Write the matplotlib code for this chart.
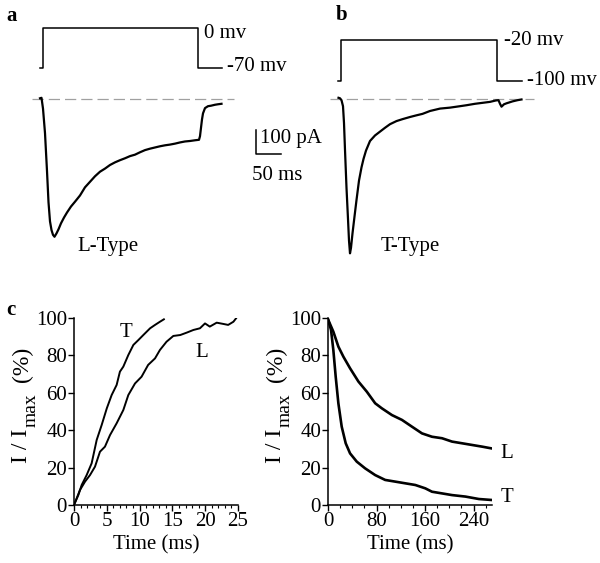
import numpy as np
import matplotlib.pyplot as plt

plt.rcParams['font.family'] = ['Liberation Serif', 'DejaVu Serif']

# panel a: L-type current (time in ms, current in pA)
a_time = [0, 3, 6, 10, 14, 17, 20, 23, 26, 29, 33, 37, 42, 48, 54, 62, 70, 80,
          90, 100, 110, 120, 130, 140, 150, 160, 170, 180, 190, 200, 210, 220,
          230, 240, 250, 260, 270, 280, 290, 300, 310, 318, 320, 322, 324, 326,
          330, 336, 342, 350, 356, 363]
a_current = [3, 5, -40, -142, -300, -430, -510, -546, -566, -574, -560, -543,
             -518, -494, -473, -448, -428, -402, -368, -345, -322, -303, -290,
             -275, -264, -255, -247, -238, -232, -222, -213, -207, -202, -197,
             -193, -190, -186, -181, -177, -175, -172, -170, -155, -120, -85,
             -60, -38, -30, -28, -24, -22, -20]
a_step_time = [0, 5.4, 316.6, 363.4]
a_step_mv = [-70, 0, -70, -70]

# panel b: T-type current
b_time = [-3, 0, 3, 6, 8, 10, 13, 16, 18, 20, 22, 25, 29, 33, 38, 43, 47, 52,
          60, 70, 80, 90, 100, 113, 125, 140, 153, 165, 180, 200, 220, 240,
          253, 270, 285, 300, 312, 317, 320, 323, 328, 333, 345, 355, 363]
b_current = [5, 3, -5, -30, -100, -212, -370, -500, -590, -643, -620, -560,
             -490, -421, -340, -285, -250, -215, -175, -152, -136, -120, -105,
             -92, -84, -75, -68, -62, -50, -40, -36, -30, -26, -20, -16, -12,
             -6, -5, -20, -32, -22, -18, -10, -5, -2]
b_step_time = [-3.4, 2, 313.4, 363.4]
b_step_mv = [-100, -20, -100, -100]

# panel c left: activation (time ms, I/Imax %)
t_rise_T = [0, 0.66, 1.17, 1.93, 2.69, 3.46, 4.22, 5.0, 5.74, 6.5, 7.0, 7.52,
            8.28, 9.05, 9.81, 10.57, 11.6, 12.35, 13.1, 13.7]
v_rise_T = [0, 5.3, 10.7, 16, 22.3, 34.8, 42.8, 51.7, 58.8, 64.2, 71.3, 74,
            80.2, 85.6, 88.2, 90.9, 94.5, 96.3, 98, 99.3]
t_rise_L = [0, 0.91, 1.68, 2.44, 3.2, 3.96, 4.72, 5.49, 6.5, 7.52, 8.28, 9.3,
            10.3, 11.3, 12.35, 13.1, 14.1, 15.14, 16.2, 17.2, 18.2, 19.2,
            19.97, 20.7, 21.75, 22.8, 23.5, 24.3, 24.7]
v_rise_L = [0, 8, 12.5, 16, 20.5, 28.5, 31.2, 37.4, 43.7, 50.8, 58.8, 65,
            68.6, 74.9, 78.4, 82.9, 87.3, 90.4, 90.9, 92.2, 93.6, 94.5, 97.1,
            95.4, 97.5, 96.8, 96.3, 98, 99.8]

# panel c right: inactivation
t_decay_L = [0, 8.8, 17.1, 25.4, 36.4, 50.2, 64, 77.8, 88.8, 105.4, 122,
             138.4, 155, 171.5, 188.1, 204.6, 221.2, 237.7, 254.3, 269.2]
v_decay_L = [99.3, 92.7, 84.7, 79.3, 73.1, 66, 60.6, 54.4, 51.7, 48.1, 45.5,
             41.9, 38.3, 36.5, 35.7, 33.9, 33, 32.1, 31.2, 30.3]
t_decay_T = [0, 5, 8.8, 12.7, 17.1, 22.6, 29.2, 36.4, 47.4, 61.2, 77.8, 94.3,
             110.9, 127.4, 144, 160.5, 171.5, 188.1, 204.6, 226.7, 248.8,
             269.2]
v_decay_T = [99.3, 93.6, 82.9, 68.6, 54.4, 41.9, 33, 27.6, 23.2, 19.6, 16,
             13.4, 12.5, 11.6, 10.7, 8.9, 7.1, 6.2, 5.3, 4.5, 3.2, 2.7]

W, H = 600, 563
fig = plt.figure(figsize=(6, 5.63), dpi=100)


def px_axes(x0, x1, y0, y1):
    # axes from pixel box (top-left origin)
    return fig.add_axes([x0 / W, 1 - y1 / H, (x1 - x0) / W, (y1 - y0) / H])


def px_text(x, y, s, **kw):
    return fig.text(x / W, 1 - y / H, s, **kw)


FS = 15

# ---- panel a ----
ax_va = px_axes(30, 290, 20, 80)
ax_va.plot(a_step_time, a_step_mv, color='black', lw=1.1, drawstyle='steps-post')
ax_va.set_xlim(-20, 500)
ax_va.set_ylim(-90.5, 14.5)
ax_va.text(328, -16.5, '0 mv', fontsize=FS, va='baseline')
ax_va.text(374, -74.2, '-70 mv', fontsize=FS, va='baseline')
ax_va.axis('off')

ax_a = px_axes(30, 290, 88, 262)
ax_a.plot([-17, 387], [0, 0], color='#a0a0a0', lw=0.9, dashes=(9, 4))
ax_a.plot(a_time, a_current, color='black', lw=1.6)
ax_a.set_xlim(-20, 500)
ax_a.set_ylim(-679.2, 45.8)
ax_a.text(135, -633, 'L-Type', fontsize=FS, ha='center', va='baseline')
# scale bar
ax_a.plot([432, 432, 482], [-129.2, -229.2, -229.2], color='black', lw=1.1)
ax_a.text(440, -184.6, '100 pA', fontsize=FS, va='baseline', clip_on=False)
ax_a.text(424, -337.5, '50 ms', fontsize=FS, va='baseline', clip_on=False)
ax_a.axis('off')

# ---- panel b ----
ax_vb = px_axes(330, 590, 20, 90)
ax_vb.plot(b_step_time, b_step_mv, color='black', lw=1.1, drawstyle='steps-post')
ax_vb.set_xlim(-20, 500)
ax_vb.set_ylim(-118.2, 19.3)
ax_vb.text(328, -29.8, '-20 mv', fontsize=FS, va='baseline')
ax_vb.text(373.4, -108.4, '-100 mv', fontsize=FS, va='baseline')
ax_vb.axis('off')

ax_b = px_axes(330, 590, 88, 262)
ax_b.plot([-21, 387], [0, 0], color='#a0a0a0', lw=0.9, dashes=(9, 4))
ax_b.plot(b_time, b_current, color='black', lw=1.6)
ax_b.set_xlim(-20, 500)
ax_b.set_ylim(-679.2, 45.8)
ax_b.text(140, -633, 'T-Type', fontsize=FS, ha='center', va='baseline')
ax_b.axis('off')

# ---- panel c ----
ax_c1 = px_axes(74, 238, 318, 505)
ax_c2 = px_axes(328, 491.7, 318, 505)

ax_c1.plot(t_rise_T, v_rise_T, color='black', lw=1.4)
ax_c1.plot(t_rise_L, v_rise_L, color='black', lw=1.4)
ax_c1.set_xlim(0, 25)
ax_c1.set_xticks([0, 5, 10, 15, 20, 25])
ax_c1.set_xticks(np.arange(0, 26, 1), minor=True)
ax_c1.text(7.9, 89.8, 'T', fontsize=FS, ha='center', va='baseline')
ax_c1.text(19.5, 79.1, 'L', fontsize=FS, ha='center', va='baseline')

ax_c2.plot(t_decay_L, v_decay_L, color='black', lw=1.9)
ax_c2.plot(t_decay_T, v_decay_T, color='black', lw=1.9)
ax_c2.set_xlim(0, 270)
ax_c2.set_xticks([0, 80, 160, 240])
ax_c2.set_xticks(np.arange(0, 271, 20), minor=True)
ax_c2.text(294.7, 25.1, 'L', fontsize=FS, ha='center', va='baseline', clip_on=False)
ax_c2.text(294.7, 1.6, 'T', fontsize=FS, ha='center', va='baseline', clip_on=False)

for ax in (ax_c1, ax_c2):
    ax.set_ylim(0, 100)
    ax.set_yticks([0, 20, 40, 60, 80, 100])
    ax.spines['top'].set_visible(False)
    ax.spines['right'].set_visible(False)
    for s in ('left', 'bottom'):
        ax.spines[s].set_linewidth(1.1)
    ax.tick_params(which='major', direction='out', length=4, width=1.0,
                   labelsize=15, pad=1)
    ax.tick_params(which='minor', direction='out', length=2.5, width=0.8)
    ax.tick_params(axis='y', which='minor', left=False)
    ax.set_xlabel('Time (ms)', fontsize=FS, labelpad=3)

# y labels "I / Imax (%)" with a large subscript, chained from pieces
renderer = fig.canvas.get_renderer()
rot = dict(rotation=90, rotation_mode='anchor', ha='left', va='baseline')
label_parts = [('I / I', 17, 0, 0), ('max', 14, 9, 2), ('(%)', 17, 1, 11)]
for dx in (0, 254):
    y = 463
    for s, size, shift, gap in label_parts:
        y -= gap
        t = px_text(27 + shift + dx, y, s, fontsize=size, **rot)
        y -= t.get_window_extent(renderer).height

# panel letters
px_text(12, 16, 'a', fontsize=FS, fontweight='bold', ha='center', va='center')
px_text(342, 15, 'b', fontsize=FS, fontweight='bold', ha='center', va='center')
px_text(11, 310, 'c', fontsize=FS, fontweight='bold', ha='center', va='center')

fig.savefig('out.png', dpi=100)
